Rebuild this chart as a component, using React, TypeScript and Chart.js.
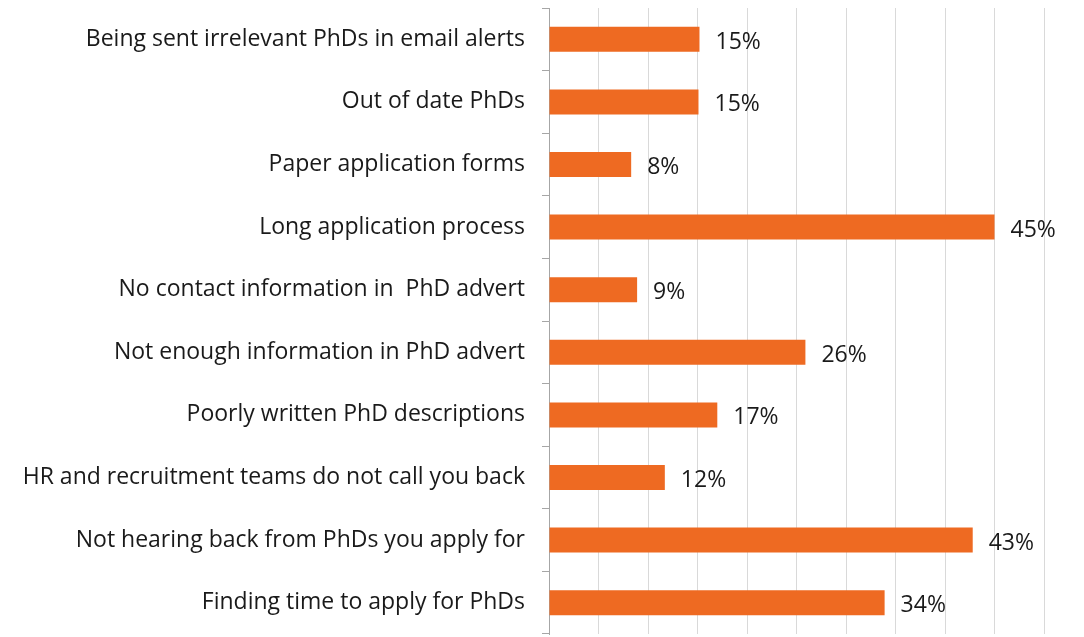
import React, { useEffect, useRef } from "react";
import { Chart, registerables } from "chart.js";

Chart.register(...registerables);

const categories: string[] = [
  "Being sent irrelevant PhDs in email alerts",
  "Out of date PhDs",
  "Paper application forms",
  "Long application process",
  "No contact information in  PhD advert",
  "Not enough information in PhD advert",
  "Poorly written PhD descriptions",
  "HR and recruitment teams do not call you back",
  "Not hearing back from PhDs you apply for",
  "Finding time to apply for PhDs",
];

const values: number[] = [15.2, 15.1, 8.3, 45.0, 8.9, 25.9, 17.0, 11.7, 42.8, 33.9];

const xMin = 0;
const xMax = 50;
const xStep = 5;

const FONT = "'Open Sans', Lato, sans-serif";
const FONT_SIZE = 23;

const valueLabelPlugin = {
  id: "valueLabels",
  afterDatasetsDraw(chart: any) {
    const ctx = chart.ctx;
    const meta = chart.getDatasetMeta(0);
    ctx.save();
    ctx.font = `${FONT_SIZE}px ${FONT}`;
    ctx.fillStyle = "#1a1a1a";
    ctx.textAlign = "left";
    ctx.textBaseline = "middle";
    meta.data.forEach((bar: any, i: number) => {
      const v = chart.data.datasets[0].data[i] as number;
      ctx.fillText(`${Math.round(v)}%`, bar.x + 16, bar.y + 3);
    });
    ctx.restore();
  },
};

export default function App() {
  const canvasRef = useRef<HTMLCanvasElement | null>(null);

  useEffect(() => {
    if (!canvasRef.current) return;
    const chart = new Chart(canvasRef.current, {
      type: "bar",
      data: {
        labels: categories,
        datasets: [
          {
            data: values,
            backgroundColor: "#EE6A22",
            borderWidth: 0,
            categoryPercentage: 1,
            barPercentage: 0.4,
          },
        ],
      },
      options: {
        indexAxis: "y",
        animation: false,
        responsive: true,
        maintainAspectRatio: false,
        layout: { padding: { top: 8, bottom: 3, left: 0, right: 40 } },
        plugins: {
          legend: { display: false },
          tooltip: { enabled: false },
        },
        scales: {
          x: {
            min: xMin,
            max: xMax,
            ticks: { display: false, stepSize: xStep },
            grid: { color: "#d9d9d9", lineWidth: 1, drawTicks: false },
            border: { display: false },
            afterFit: (scale: any) => {
              scale.height = 0;
              scale.paddingLeft = 0;
              scale.paddingRight = 0;
            },
          },
          y: {
            ticks: {
              color: "#1a1a1a",
              font: { family: FONT, size: FONT_SIZE },
              padding: 17,
              autoSkip: false,
            },
            grid: {
              offset: true,
              drawOnChartArea: false,
              drawTicks: true,
              tickLength: 7,
              color: "#a6a6a6",
            },
            border: { display: true, color: "#a6a6a6" },
            afterFit: (scale: any) => {
              scale.width = 549;
              scale.paddingTop = 0;
              scale.paddingBottom = 0;
            },
          },
        },
      },
      plugins: [valueLabelPlugin],
    });
    return () => chart.destroy();
  }, []);

  return (
    <div style={{ position: "absolute", left: 0, top: 0, width: 1084, height: 637, background: "#fff" }}>
      <canvas ref={canvasRef} />
    </div>
  );
}
